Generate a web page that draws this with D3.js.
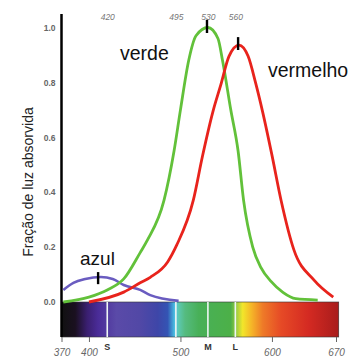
<!DOCTYPE html>
<html>
<head>
<meta charset="utf-8">
<script src="https://cdn.jsdelivr.net/npm/d3@7"></script>
<style>
  body { margin: 0; background: #fff; }
  svg { display: block; font-family: "Liberation Sans", Arial, sans-serif; }
</style>
</head>
<body>
<div id="chart"></div>
<script>
// absorption curves (wavelength nm, fraction absorbed)
var blueNm  = [372, 383, 396, 413, 426, 438, 456, 467, 498];
var blueVal = [0.044, 0.07, 0.084, 0.091, 0.084, 0.062, 0.044, 0.025, 0.004];

var greenNm  = [372, 400, 420, 438, 456, 464, 482, 493, 500, 509, 517, 530, 541, 546, 555, 563, 569, 579, 588, 599, 612, 626, 650];
var greenVal = [0, 0.018, 0.044, 0.084, 0.18, 0.226, 0.37, 0.55, 0.70, 0.88, 0.97, 1.0, 0.96, 0.88, 0.70, 0.55, 0.37, 0.2, 0.125, 0.075, 0.035, 0.012, 0.007];

var redNm  = [400, 438, 456, 467, 486, 496, 514, 524, 536, 544, 553, 564, 574, 582, 590, 600, 610, 624, 646, 667];
var redVal = [0, 0.036, 0.07, 0.09, 0.146, 0.208, 0.37, 0.53, 0.70, 0.79, 0.895, 0.936, 0.895, 0.8, 0.69, 0.535, 0.37, 0.19, 0.08, 0.018];

// peak markers
var markNm = [410, 529, 563];
var markLo = [0.065, 0.98, 0.918];
var markHi = [0.109, 1.028, 0.965];

var yTicks = [0, 0.2, 0.4, 0.6, 0.8, 1.0];
var topTicks = [420, 495, 530, 560];
var bottomTicks = [370, 400, 500, 600, 670];
var coneNm = [420, 530, 560];
var coneLabels = ["S", "M", "L"];
var whiteLines = [420, 495, 530, 560];

// spectrum colour stops (nm, colour)
var specNm = [370, 385, 398, 410, 430, 455, 475, 486, 490, 494, 498, 505, 520, 555, 562, 568, 578, 590, 610, 640, 673];
var specCol = ["#111111", "#1a1020", "#3a1f70", "#4a2c98", "#5a4aa8", "#5248a6", "#3e46a8", "#3454b4", "#3e8ccc", "#4cc4e4",
               "#5cc8b0", "#55bb80", "#48b058", "#4cb048", "#a8d040", "#f2e62a", "#f5b428", "#ee7a28", "#e64a26", "#d42a22", "#a81c1c"];

var svgWidth = 351;
var svgHeight = 362;

var svg = d3.select("#chart")
  .append("svg")
  .attr("width", svgWidth)
  .attr("height", svgHeight);

var x = d3.scaleLinear().domain([370, 670]).range([61.5, 336]);
var y = d3.scaleLinear().domain([0, 1]).range([302, 27.5]);

var specTop = 302, specBottom = 337;

// spectrum bar
var grad = svg.append("defs").append("linearGradient")
  .attr("id", "spec")
  .attr("gradientUnits", "userSpaceOnUse")
  .attr("x1", x(370)).attr("x2", x(673))
  .attr("y1", 0).attr("y2", 0);
grad.selectAll("stop")
  .data(specNm)
  .enter().append("stop")
  .attr("offset", function(d) { return (d - 370) / (673 - 370); })
  .attr("stop-color", function(d, i) { return specCol[i]; });

svg.append("rect")
  .attr("x", x(370))
  .attr("y", specTop)
  .attr("width", x(673) - x(370))
  .attr("height", specBottom - specTop)
  .attr("fill", "url(#spec)")
  .attr("stroke", "#333")
  .attr("stroke-width", 0.6);

svg.selectAll(".wline")
  .data(whiteLines)
  .enter().append("line")
  .attr("x1", function(d) { return x(d); })
  .attr("x2", function(d) { return x(d); })
  .attr("y1", specTop)
  .attr("y2", specBottom)
  .attr("stroke", "#eef6f4")
  .attr("stroke-width", 1.6);

// y axis labels
var leftAxis = d3.axisLeft(y).tickValues(yTicks).tickFormat(d3.format(".1f")).tickSize(0).tickPadding(6);
var gy = svg.append("g").attr("transform", "translate(" + x(370) + ",0)").call(leftAxis);
gy.select(".domain").remove();
gy.selectAll("text")
  .attr("fill", "#666")
  .style("font-family", "'Liberation Sans Narrow', 'Liberation Sans', sans-serif")
  .style("font-weight", "bold")
  .style("font-size", "8.5px");

// top wavelength labels
var topAxis = d3.axisTop(x).tickValues(topTicks).tickSize(0).tickPadding(0);
var gt = svg.append("g").attr("transform", "translate(0,20)").call(topAxis);
gt.select(".domain").remove();
gt.selectAll("text")
  .attr("fill", "#777")
  .style("font-style", "italic")
  .style("font-size", "8.5px");

// bottom wavelength labels
var bottomAxis = d3.axisBottom(x).tickValues(bottomTicks).tickSize(5).tickPadding(7);
var gb = svg.append("g").attr("transform", "translate(0," + specBottom + ")").call(bottomAxis);
gb.select(".domain").remove();
gb.selectAll("line").attr("stroke", "#666");
gb.selectAll("text")
  .attr("fill", "#666")
  .style("font-style", "italic")
  .style("font-size", "10px");

// S M L
svg.selectAll(".cone")
  .data(coneNm)
  .enter().append("text")
  .attr("x", function(d) { return x(d); })
  .attr("y", 350)
  .attr("text-anchor", "middle")
  .attr("fill", "#333")
  .style("font-weight", "bold")
  .style("font-size", "9px")
  .text(function(d, i) { return coneLabels[i]; });

// y axis line
svg.append("line")
  .attr("x1", x(370)).attr("x2", x(370))
  .attr("y1", 14).attr("y2", specBottom)
  .attr("stroke", "#000")
  .attr("stroke-width", 2.5);

// curves
var line = d3.line()
  .x(function(d) { return x(d[0]); })
  .y(function(d) { return y(d[1]); })
  .curve(d3.curveMonotoneX);

function pairs(a, b) { return a.map(function(d, i) { return [d, b[i]]; }); }

svg.append("path").datum(pairs(blueNm, blueVal))
  .attr("d", line).attr("fill", "none")
  .attr("stroke", "#6a5cc0").attr("stroke-width", 2.6);
svg.append("path").datum(pairs(greenNm, greenVal))
  .attr("d", line).attr("fill", "none")
  .attr("stroke", "#62c13a").attr("stroke-width", 2.8);
svg.append("path").datum(pairs(redNm, redVal))
  .attr("d", line).attr("fill", "none")
  .attr("stroke", "#e8231c").attr("stroke-width", 2.8);

// peak markers
svg.selectAll(".mark")
  .data(markNm)
  .enter().append("line")
  .attr("x1", function(d) { return x(d); })
  .attr("x2", function(d) { return x(d); })
  .attr("y1", function(d, i) { return y(markLo[i]); })
  .attr("y2", function(d, i) { return y(markHi[i]); })
  .attr("stroke", "#000")
  .attr("stroke-width", 2.4);

// curve names
svg.append("text").attr("x", 80).attr("y", 265).style("font-size", "19px").attr("fill", "#111").text("azul");
svg.append("text").attr("x", 120).attr("y", 60).style("font-size", "19.5px").attr("fill", "#111").text("verde");
svg.append("text").attr("x", 268).attr("y", 77).style("font-size", "19.5px").attr("fill", "#111").text("vermelho");

// y title
svg.append("text")
  .attr("transform", "translate(33,182) rotate(-90)")
  .attr("text-anchor", "middle")
  .style("font-size", "14px")
  .attr("fill", "#222")
  .text("Fração de luz absorvida");
</script>
</body>
</html>
